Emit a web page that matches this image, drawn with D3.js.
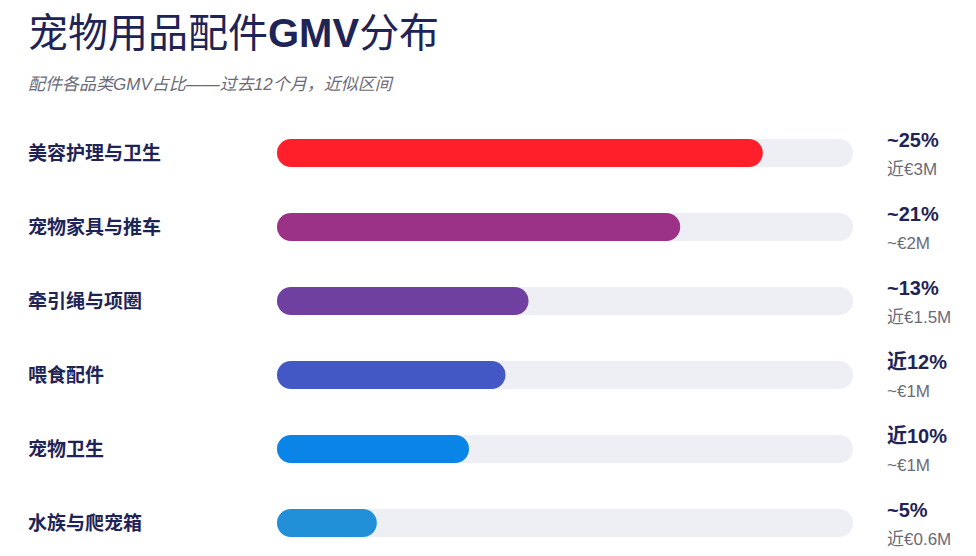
<!DOCTYPE html>
<html>
<head>
<meta charset="utf-8">
<script src="https://cdn.jsdelivr.net/npm/d3@7"></script>
<style>
  body { margin: 0; background: #fff; }
  svg text { font-family: "Liberation Sans", "Noto Sans CJK SC", sans-serif; }
</style>
</head>
<body>
<div id="chart"></div>
<script>
var categories = ["美容护理与卫生", "宠物家具与推车", "牵引绳与项圈", "喂食配件", "宠物卫生", "水族与爬宠箱"];
var shares = [25.3, 21, 13.1, 11.9, 10, 5.2];
var shareLabels = ["~25%", "~21%", "~13%", "近12%", "近10%", "~5%"];
var gmvLabels = ["近€3M", "~€2M", "近€1.5M", "~€1M", "~€1M", "近€0.6M"];
var barColors = ["#ff1f2a", "#9c3188", "#7040a0", "#4358c4", "#0a84e6", "#2190d8"];

var width = 976, height = 556;
var svg = d3.select("#chart").append("svg")
  .attr("width", width)
  .attr("height", height);

var title = svg.append("text")
  .attr("x", 28).attr("y", 47)
  .attr("font-size", 40)
  .attr("fill", "#1f2456");
title.append("tspan").text("宠物用品配件");
title.append("tspan").attr("font-weight", "bold").text("GMV");
title.append("tspan").text("分布");

svg.append("text")
  .attr("x", 28).attr("y", 90)
  .attr("font-size", 17)
  .attr("font-style", "italic")
  .attr("fill", "#6b6b78")
  .text("配件各品类GMV占比——过去12个月，近似区间");

var rows = categories.map((c, i) => ({
  cat: c, share: shares[i], shareLabel: shareLabels[i], gmv: gmvLabels[i], color: barColors[i]
}));

var xScale = d3.scaleLinear().domain([0, 30]).range([277, 853]);
var yScale = d3.scaleBand().domain(categories).range([116, 560]).paddingInner(0.62).paddingOuter(0.31);
var barH = 28;

var row = svg.selectAll(".row")
  .data(rows)
  .enter()
  .append("g")
  .attr("class", "row")
  .attr("transform", d => `translate(0, ${yScale(d.cat) + yScale.bandwidth() / 2})`);

row.append("text")
  .attr("x", 28).attr("y", 7)
  .attr("font-size", 19)
  .attr("font-weight", "bold")
  .attr("fill", "#1f2456")
  .text(d => d.cat);

row.append("rect")
  .attr("x", xScale(0))
  .attr("y", -barH / 2)
  .attr("width", xScale(30) - xScale(0))
  .attr("height", barH)
  .attr("rx", barH / 2)
  .attr("fill", "#eeeff5");

row.append("rect")
  .attr("x", xScale(0))
  .attr("y", -barH / 2)
  .attr("width", d => xScale(d.share) - xScale(0))
  .attr("height", barH)
  .attr("rx", barH / 2)
  .attr("fill", d => d.color);

row.append("text")
  .attr("x", 887).attr("y", -6)
  .attr("font-size", 20)
  .attr("font-weight", "bold")
  .attr("fill", "#1f2456")
  .text(d => d.shareLabel);

row.append("text")
  .attr("x", 887).attr("y", 22)
  .attr("font-size", 17)
  .attr("fill", "#6b6b78")
  .text(d => d.gmv);
</script>
</body>
</html>
